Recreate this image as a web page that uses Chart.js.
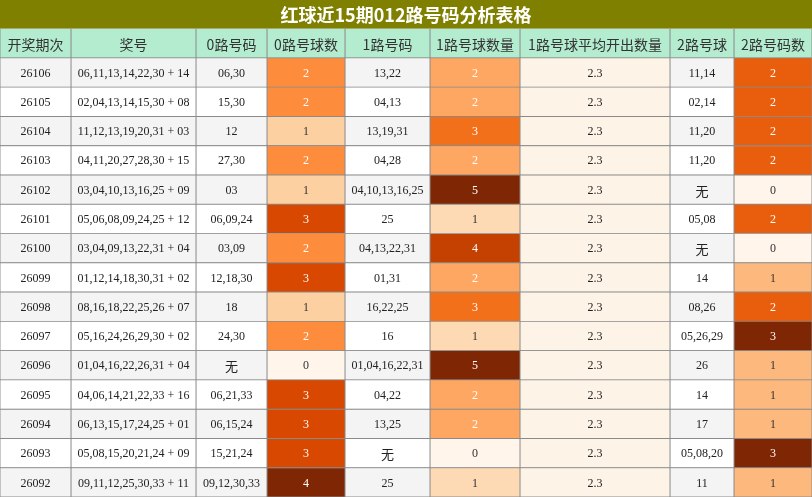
<!DOCTYPE html>
<html><head><meta charset="utf-8">
<script src="https://cdn.jsdelivr.net/npm/chart.js"></script>
<style>html,body{margin:0;padding:0;background:#fff}#w{width:812px;height:497px}</style>
</head><body><div id="w"><canvas id="c"></canvas></div>
<script>
const headers=["开奖期次","奖号","0路号码","0路号球数","1路号码","1路号球数量","1路号球平均开出数量","2路号球","2路号码数"];
const colWidths=[71,125,71,78,85,90,150,64,78];
const periods=["26106","26105","26104","26103","26102","26101","26100","26099","26098","26097","26096","26095","26094","26093","26092"];
const draws=["06,11,13,14,22,30 + 14","02,04,13,14,15,30 + 08","11,12,13,19,20,31 + 03","04,11,20,27,28,30 + 15","03,04,10,13,16,25 + 09","05,06,08,09,24,25 + 12","03,04,09,13,22,31 + 04","01,12,14,18,30,31 + 02","08,16,18,22,25,26 + 07","05,16,24,26,29,30 + 02","01,04,16,22,26,31 + 04","04,06,14,21,22,33 + 16","06,13,15,17,24,25 + 01","05,08,15,20,21,24 + 09","09,11,12,25,30,33 + 11"];
const nums0=["06,30","15,30","12","27,30","03","06,09,24","03,09","12,18,30","18","24,30","无","06,21,33","06,15,24","15,21,24","09,12,30,33"];
const count0=[2,2,1,2,1,3,2,3,1,2,0,3,3,3,4];
const nums1=["13,22","04,13","13,19,31","04,28","04,10,13,16,25","25","04,13,22,31","01,31","16,22,25","16","01,04,16,22,31","04,22","13,25","无","25"];
const count1=[2,2,3,2,5,1,4,2,3,1,5,2,2,0,1];
const avg1=[2.3,2.3,2.3,2.3,2.3,2.3,2.3,2.3,2.3,2.3,2.3,2.3,2.3,2.3,2.3];
const nums2=["11,14","02,14","11,20","11,20","无","05,08","无","14","08,26","05,26,29","26","14","17","05,08,20","11"];
const count2=[2,2,2,2,0,2,0,1,2,3,1,1,1,3,1];

const stops=["#fff5eb","#fee6ce","#fdd0a2","#fdae6b","#fd8d3c","#f16913","#d94801","#a63603","#7f2704"];
function hex(h){return [1,3,5].map(i=>parseInt(h.substr(i,2),16));}
function oranges(t){t=Math.max(0,Math.min(1,t));const p=t*8,i=Math.min(7,Math.floor(p)),f=p-i;const a=hex(stops[i]),b=hex(stops[i+1]);return `rgb(${a.map((v,k)=>Math.round(v+(b[k]-v)*f)).join(',')})`;}
const heat={3:[count0,4],5:[count1,5],8:[count2,3]};
const cols=[periods,draws,nums0,count0,nums1,count1,avg1.map(v=>v.toFixed(1)),nums2,count2];
const labels=["h"].concat(periods);
function cellBg(c,r){
  if(r===0) return "#b4ecd0";
  const i=r-1;
  if(heat[c]) return oranges(heat[c][0][i]/heat[c][1]);
  if(c===6) return "#fdf3e7";
  return i%2===0?"#f4f4f4":"#ffffff";
}
function cellFg(c,r){
  if(r===0) return "#333";
  if(heat[c]) return heat[c][0][r-1]/heat[c][1]>0.38?"#ffffff":"#333";
  return "#222";
}
const datasets=colWidths.map((w,c)=>({
  data:labels.map(()=>w),
  backgroundColor:labels.map((_,r)=>cellBg(c,r)),
  borderColor:"#8a8a8a",borderWidth:0.8,borderSkipped:false,
  barPercentage:1,categoryPercentage:1
}));
const bgPlugin={id:'bg',beforeDraw(ch){const x=ch.ctx;x.save();x.fillStyle="#fff";x.fillRect(0,0,ch.width,ch.height);x.fillStyle="#808000";x.fillRect(0,0,ch.width,ch.chartArea.top);x.restore();}};
const textPlugin={id:'txt',afterDatasetsDraw(ch){
  const x=ch.ctx;x.save();x.textAlign="center";x.textBaseline="middle";
  ch.data.datasets.forEach((d,c)=>{ch.getDatasetMeta(c).data.forEach((el,r)=>{
    const cx=(el.x+el.base)/2;
    let t;
    if(r===0){t=headers[c];x.font="14px 'Noto Sans CJK SC', sans-serif";}
    else{t=String(cols[c][r-1]);x.font=/[\u4e00-\u9fff]/.test(t)?"13px 'Noto Sans CJK SC', sans-serif":"12px 'Liberation Serif', serif";}
    x.fillStyle=cellFg(c,r);x.fillText(t,cx,el.y+1);
  });});
  x.restore();}};
new Chart(document.getElementById('c'),{
  type:'bar',
  data:{labels,datasets},
  options:{indexAxis:'y',responsive:true,maintainAspectRatio:false,animation:false,
    layout:{padding:0},
    scales:{x:{stacked:true,display:false,min:0,max:812},y:{stacked:true,display:false}},
    plugins:{legend:{display:false},tooltip:{enabled:false},
      title:{display:true,text:"红球近15期012路号码分析表格",color:"#fff",font:{size:18,weight:'bold',family:"'Noto Sans CJK SC', sans-serif"},padding:{top:4,bottom:3}}}
  },
  plugins:[bgPlugin,textPlugin]
});
</script></body></html>
